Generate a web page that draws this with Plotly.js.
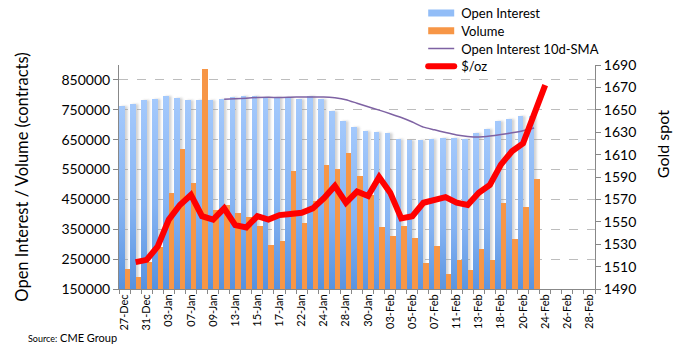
<!DOCTYPE html>
<html>
<head>
<meta charset="utf-8">
<script src="https://cdn.plot.ly/plotly-3.0.1.min.js"></script>
<style>
  html, body { margin: 0; padding: 0; background: #ffffff; }
  #chart { width: 686px; height: 355px; }
</style>
</head>
<body>
<div id="chart"></div>
<script>
// Trading days (category axis)
const categories = ['27-Dec','30-Dec','31-Dec','02-Jan','03-Jan','06-Jan','07-Jan','08-Jan','09-Jan','10-Jan',
  '13-Jan','14-Jan','15-Jan','16-Jan','17-Jan','21-Jan','22-Jan','23-Jan','24-Jan','27-Jan',
  '28-Jan','29-Jan','30-Jan','31-Jan','03-Feb','04-Feb','05-Feb','06-Feb','07-Feb','10-Feb',
  '11-Feb','12-Feb','13-Feb','14-Feb','18-Feb','19-Feb','20-Feb','21-Feb','24-Feb','25-Feb',
  '26-Feb','27-Feb','28-Feb'];

// Open interest (contracts), 27-Dec .. 21-Feb
const openInterest = [764000, 771000, 784000, 787000, 797000, 791000, 784000, 784000, 784000, 787000,
  794000, 797000, 797000, 793000, 793000, 793000, 787000, 797000, 787000, 747000,
  714000, 694000, 680000, 677000, 673000, 653000, 650000, 650000, 653000, 657000,
  657000, 653000, 673000, 687000, 714000, 720000, 730000, 730000];

// Volume (contracts), 27-Dec .. 21-Feb
const volume = [218000, 189000, 242000, 292000, 470000, 620000, 504000, 888000, 416000, 430000,
  403000, 392000, 362000, 298000, 312000, 544000, 372000, 443000, 566000, 553000,
  606000, 530000, 466000, 359000, 328000, 362000, 322000, 238000, 295000, 201000,
  248000, 215000, 285000, 248000, 439000, 319000, 426000, 519000];

// Open interest 10-day SMA, 10-Jan .. 21-Feb
const smaStart = 9;
const openInterestSMA = [785000, 787000, 789000, 791000, 792000, 791000, 792000, 793000, 793000, 793000,
  790000, 784000, 772000, 760000, 749000, 737000, 724000, 709000, 692000, 683000,
  674000, 666000, 661000, 659000, 662000, 667000, 673000, 680000, 689000];

// Gold spot $/oz, 30-Dec .. 24-Feb
const goldStart = 1;
const goldSpot = [1514, 1516, 1528, 1552, 1565, 1574, 1555, 1552, 1562, 1547,
  1545, 1555, 1552, 1556, 1557, 1558, 1562, 1571, 1582, 1567,
  1577, 1573, 1590, 1576, 1553, 1555, 1567, 1570, 1572, 1567,
  1565, 1576, 1583, 1601, 1613, 1620, 1645, 1672];

const idx = (arr, start) => arr.map((_, i) => i + start);
const labelIdx = categories.map((_, i) => i).filter(i => i % 2 === 0);
const labelText = labelIdx.map(i => categories[i]);

const FONT = 'Lato, "Open Sans", "Liberation Sans", sans-serif';

const data = [
  {
    type: 'bar', name: 'Open Interest',
    x: idx(openInterest, 0), y: openInterest,
    marker: { color: '#8cb8f5', line: { width: 0 } },
    yaxis: 'y'
  },
  {
    type: 'bar', name: 'Volume',
    x: idx(volume, 0), y: volume,
    marker: { color: '#f79646', line: { width: 0 } },
    yaxis: 'y'
  },
  {
    type: 'scatter', mode: 'lines', name: 'Open Interest 10d-SMA',
    x: idx(openInterestSMA, smaStart), y: openInterestSMA,
    line: { color: '#7e62a3', width: 1.5, shape: 'spline', smoothing: 0.6 },
    yaxis: 'y'
  },
  {
    type: 'scatter', mode: 'lines', name: '$/oz',
    x: idx(goldSpot, goldStart), y: goldSpot,
    line: { color: '#ff0000', width: 6 },
    yaxis: 'y2'
  }
];

const layout = {
  width: 686, height: 355,
  margin: { l: 119, r: 91, t: 65, b: 66, pad: 0, autoexpand: false },
  paper_bgcolor: '#ffffff', plot_bgcolor: '#ffffff',
  font: { family: FONT, color: '#000000', size: 14 },
  barmode: 'group', bargap: 0, bargroupgap: 0,
  showlegend: true,
  legend: {
    xref: 'container', yref: 'container',
    x: 0.614, y: 1, xanchor: 'left', yanchor: 'top',
    orientation: 'v', bgcolor: 'rgba(0,0,0,0)',
    font: { family: FONT, size: 13, color: '#000' },
    tracegroupgap: 0, itemwidth: 30
  },
  xaxis: {
    type: 'linear', range: [-0.5, 42.5],
    tickmode: 'array', tickvals: labelIdx, ticktext: labelText,
    tickangle: -90, tickfont: { family: FONT, size: 11, color: '#000' },
    ticks: 'outside', ticklen: 0, tickcolor: '#888',
    minor: { tickmode: 'linear', tick0: -0.5, dtick: 1, ticks: 'outside', ticklen: 4, tickcolor: '#888', showgrid: false },
    showline: true, linecolor: '#888', linewidth: 1,
    showgrid: false, zeroline: false, fixedrange: true
  },
  yaxis: {
    range: [150000, 900000], tickmode: 'linear', tick0: 150000, dtick: 100000,
    tickformat: 'd', tickfont: { family: FONT, size: 14, color: '#000' },
    ticks: 'outside', ticklen: 5, tickcolor: '#888',
    showline: true, linecolor: '#888', linewidth: 1,
    showgrid: true, gridcolor: '#bdbdbd', griddash: 'dash', gridwidth: 1,
    zeroline: false,
    title: { text: 'Open Interest / Volume (contracts)', font: { family: FONT, size: 16.5, color: '#000' }, standoff: 28 }
  },
  yaxis2: {
    overlaying: 'y', side: 'right',
    range: [1490, 1690], tickmode: 'linear', tick0: 1490, dtick: 20,
    tickfont: { family: FONT, size: 14, color: '#000' },
    ticks: 'outside', ticklen: 5, tickcolor: '#888',
    showline: true, linecolor: '#888', linewidth: 1,
    showgrid: false, zeroline: false
  },
  annotations: [
    {
      xref: 'paper', yref: 'paper', x: 1.141, y: 0.647, xanchor: 'center', yanchor: 'middle',
      showarrow: false, textangle: -90, text: 'Gold spot',
      font: { family: FONT, size: 16, color: '#000' }
    },
    {
      xref: 'paper', yref: 'paper', x: -0.195, y: -0.215, xanchor: 'left', yanchor: 'middle',
      showarrow: false, align: 'left',
      text: '<span style="font-size:9px">Source:</span> CME Group',
      font: { family: FONT, size: 11, color: '#000' }
    }
  ]
};

Plotly.newPlot('chart', data, layout, { staticPlot: true, displayModeBar: false }).then(function (gd) {
  const ns = 'http://www.w3.org/2000/svg';
  const svg = gd.querySelector('.main-svg');
  let defs = svg.querySelector('defs');
  if (!defs) { defs = document.createElementNS(ns, 'defs'); svg.insertBefore(defs, svg.firstChild); }
  const lg = document.createElementNS(ns, 'linearGradient');
  lg.setAttribute('id', 'oiGrad');
  lg.setAttribute('x1', '0'); lg.setAttribute('y1', '0'); lg.setAttribute('x2', '0'); lg.setAttribute('y2', '1');
  [['0%', '#a4c9fc'], ['45%', '#86b4f3'], ['100%', '#3d7fd4']].forEach(function (s) {
    const st = document.createElementNS(ns, 'stop');
    st.setAttribute('offset', s[0]); st.setAttribute('stop-color', s[1]);
    lg.appendChild(st);
  });
  defs.appendChild(lg);
  const f = document.createElementNS(ns, 'filter');
  f.setAttribute('id', 'oiShadow');
  f.setAttribute('x', '-50%'); f.setAttribute('y', '-10%'); f.setAttribute('width', '250%'); f.setAttribute('height', '120%');
  const ds = document.createElementNS(ns, 'feDropShadow');
  ds.setAttribute('dx', '2.5'); ds.setAttribute('dy', '0'); ds.setAttribute('stdDeviation', '1.3');
  ds.setAttribute('flood-color', '#999999'); ds.setAttribute('flood-opacity', '0.45');
  f.appendChild(ds);
  defs.appendChild(f);
  const barTraces = gd.querySelectorAll('.barlayer .trace');
  if (barTraces.length) {
    barTraces[0].querySelectorAll('path').forEach(function (p) {
      p.style.fill = 'url(#oiGrad)';
      p.setAttribute('filter', 'url(#oiShadow)');
    });
  }
  // Legend styling: wide flat bar swatches, rounded thick line, tighter rows
  const items = gd.querySelectorAll('.legend .traces');
  let firstY = null;
  items.forEach(function (it, i) {
    const m = /translate\(\s*([-\d.]+)[ ,]+([-\d.]+)\s*\)/.exec(it.getAttribute('transform') || '');
    if (m) {
      const tx = parseFloat(m[1]), ty = parseFloat(m[2]);
      if (firstY === null) firstY = ty;
      it.setAttribute('transform', 'translate(' + tx + ',' + (firstY - 2 + i * 17.8) + ')');
    }
    if (i < 2) {
      it.querySelectorAll('.legendpoints path').forEach(function (p) {
        p.setAttribute('d', 'M13,3.5H-13V-3.5H13Z');
        if (i === 0) p.style.fill = '#92bdf7';
      });
    }
    if (i === 3) {
      it.querySelectorAll('.legendlines path').forEach(function (p) {
        p.setAttribute('d', 'M7,0h26');
        p.style.strokeLinecap = 'round';
      });
    }
    if (i === 2) {
      it.querySelectorAll('.legendlines path').forEach(function (p) {
        p.setAttribute('d', 'M7,0h26');
      });
    }
  });
});
</script>
</body>
</html>
